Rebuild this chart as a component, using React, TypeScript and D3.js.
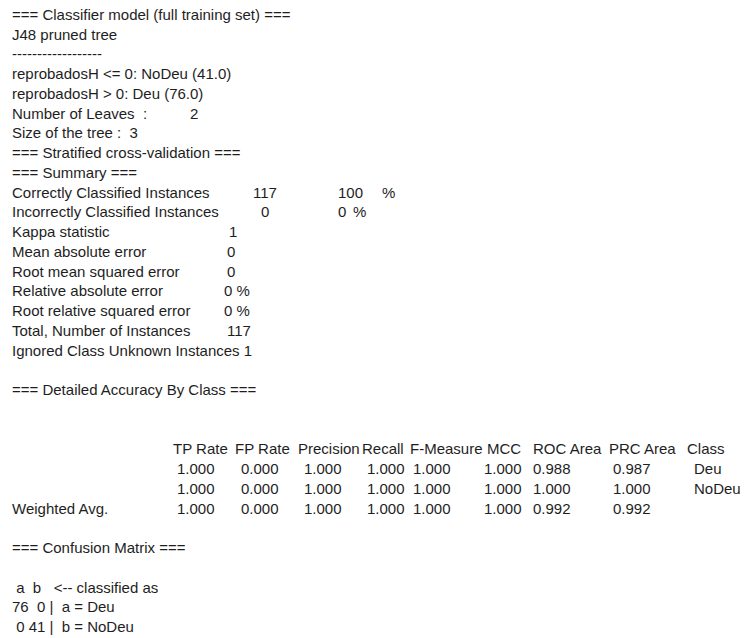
import React from "react";
import * as d3 from "d3";

const W = 750;
const H = 638;

// ---- data (text content) ----
const treeLines = [
  "=== Classifier model (full training set) ===",
  "J48 pruned tree",
  "------------------",
  "reprobadosH <= 0: NoDeu (41.0)",
  "reprobadosH > 0: Deu (76.0)",
];
const leavesLabel = "Number of Leaves  :";
const leavesValue = "2";
const sizeLine = "Size of the tree :  3";
const sectionLines = ["=== Stratified cross-validation ===", "=== Summary ==="];

const summaryLabels = [
  "Correctly Classified Instances",
  "Incorrectly Classified Instances",
  "Kappa statistic",
  "Mean absolute error",
  "Root mean squared error",
  "Relative absolute error",
  "Root relative squared error",
  "Total, Number of Instances",
];
const summaryValues = ["117", "0", "1", "0", "0", "0 %", "0 %", "117"];
const summaryPercents = ["100", "0", "", "", "", "", "", ""];
const ignoredLine = "Ignored Class Unknown Instances 1";

const detailTitle = "=== Detailed Accuracy By Class ===";
const tableHeaders = ["TP Rate", "FP Rate", "Precision", "Recall", "F-Measure", "MCC", "ROC Area", "PRC Area", "Class"];
const rowLabels = ["", "", "Weighted Avg."];
const tpRate = ["1.000", "1.000", "1.000"];
const fpRate = ["0.000", "0.000", "0.000"];
const precision = ["1.000", "1.000", "1.000"];
const recall = ["1.000", "1.000", "1.000"];
const fMeasure = ["1.000", "1.000", "1.000"];
const mcc = ["1.000", "1.000", "1.000"];
const rocArea = ["0.988", "1.000", "0.992"];
const prcArea = ["0.987", "1.000", "0.992"];
const classNames = ["Deu", "NoDeu", ""];

const confusionTitle = "=== Confusion Matrix ===";
const confusionHeader = " a  b   <-- classified as";
const confusionRows = ["76  0 |  a = Deu", " 0 41 |  b = NoDeu"];

export default function App() {
  // line index -> baseline
  const y = d3.scaleLinear().domain([0, 31]).range([20, 632]);

  const font = "'Liberation Sans', Arial, sans-serif";
  const fs = 15;
  const color = "#1e1e1e";

  const headerX = [173, 235, 298, 362, 410, 487, 533, 609, 687];
  const valueX = [177, 241, 304, 367, 413, 484, 533, 613, 694];
  const columns = [tpRate, fpRate, precision, recall, fMeasure, mcc, rocArea, prcArea, classNames];

  const L = 12;
  const items: { x: number; i: number; t: string }[] = [];
  treeLines.forEach((t, k) => items.push({ x: L, i: k, t }));
  items.push({ x: L, i: 5, t: leavesLabel });
  items.push({ x: 190, i: 5, t: leavesValue });
  items.push({ x: L, i: 6, t: sizeLine });
  sectionLines.forEach((t, k) => items.push({ x: L, i: 7 + k, t }));
  const valX = [253, 261, 229, 227, 227, 224, 224, 227];
  const pctX = [338, 338];
  const pctSignX = [382, 353];
  summaryLabels.forEach((t, k) => {
    items.push({ x: L, i: 9 + k, t });
    items.push({ x: valX[k], i: 9 + k, t: summaryValues[k] });
    if (summaryPercents[k]) {
      items.push({ x: pctX[k], i: 9 + k, t: summaryPercents[k] });
      items.push({ x: pctSignX[k], i: 9 + k, t: "%" });
    }
  });
  items.push({ x: L, i: 17, t: ignoredLine });
  items.push({ x: L, i: 19, t: detailTitle });
  tableHeaders.forEach((t, k) => items.push({ x: headerX[k], i: 22, t }));
  rowLabels.forEach((t, r) => {
    if (t) items.push({ x: L, i: 23 + r, t });
    columns.forEach((col, c) => {
      if (col[r]) items.push({ x: valueX[c], i: 23 + r, t: col[r] });
    });
  });
  items.push({ x: L, i: 27, t: confusionTitle });
  items.push({ x: L, i: 29, t: confusionHeader });
  confusionRows.forEach((t, k) => items.push({ x: L, i: 30 + k, t }));

  return (
    <svg
      width={W}
      height={H}
      style={{ position: "absolute", left: 0, top: 0, background: "#fff" }}
    >
      <rect width={W} height={H} fill="#fff" />
      <g fontFamily={font} fontSize={fs} fill={color}>
        {items.map((d, k) => (
          <text key={k} x={d.x} y={y(d.i)} style={{ whiteSpace: "pre" }}>
            {d.t}
          </text>
        ))}
      </g>
    </svg>
  );
}
